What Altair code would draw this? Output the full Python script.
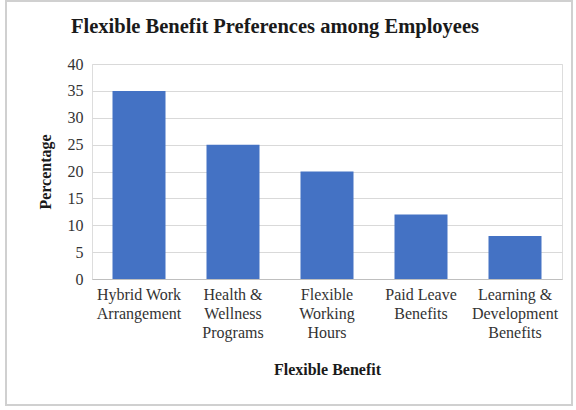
import altair as alt
import pandas as pd

categories = ["Hybrid Work\nArrangement", "Health &\nWellness\nPrograms", "Flexible\nWorking\nHours",
              "Paid Leave\nBenefits", "Learning &\nDevelopment\nBenefits"]
values = [35, 25, 20, 12, 8]
y_ticks = [0, 5, 10, 15, 20, 25, 30, 35, 40]
title_text = "Flexible Benefit Preferences among Employees"

df = pd.DataFrame({"benefit": categories, "pct": values})

FONT = "Liberation Serif"
W, H = 470, 215

bars = alt.Chart(df).mark_bar(color="#4472C4", size=53).encode(
    x=alt.X("benefit:N", sort=categories, title="Flexible Benefit",
            axis=alt.Axis(labelAngle=0, labelExpr="split(datum.label, '\\n')",
                          labelFont=FONT, labelFontSize=16, labelColor="#333333",
                          labelLineHeight=19, labelPadding=7, ticks=False,
                          domainColor="#bfbfbf", titleFont=FONT, titleFontSize=16,
                          titleFontWeight="bold", titleColor="#1a1a1a", titlePadding=21,
                          labelBaseline="top")),
    y=alt.Y("pct:Q", title="Percentage", scale=alt.Scale(domain=[0, 40]),
            axis=alt.Axis(values=y_ticks, labelFont=FONT, labelFontSize=16,
                          labelColor="#333333", ticks=False, domain=False,
                          gridColor="#d9d9d9", labelPadding=9, titleFont=FONT,
                          titleFontSize=16, titleFontWeight="bold", titleColor="#1a1a1a",
                          titlePadding=14)),
)

border = alt.Chart(df).mark_rect(fill=None, stroke="#d0d0d0", strokeWidth=1.5, clip=False).encode(
    x=alt.value(-86), x2=alt.value(480), y=alt.value(-63), y2=alt.value(341)
)

title = alt.Chart(pd.DataFrame({"t": [title_text]})).mark_text(
    font=FONT, fontSize=20.5, fontWeight="bold", color="#1a1a1a",
    align="center", baseline="alphabetic", clip=False
).encode(text="t:N", x=alt.value(183), y=alt.value(-31))

chart = alt.layer(bars, border, title).properties(
    width=W, height=H,
    autosize=alt.AutoSizeParams(type="none"),
    padding={"left": 92, "top": 64, "right": 14, "bottom": 131},
).configure_view(stroke=None).configure(background="white")

chart.save("out.html", embed_options={"renderer": "svg", "actions": False})
